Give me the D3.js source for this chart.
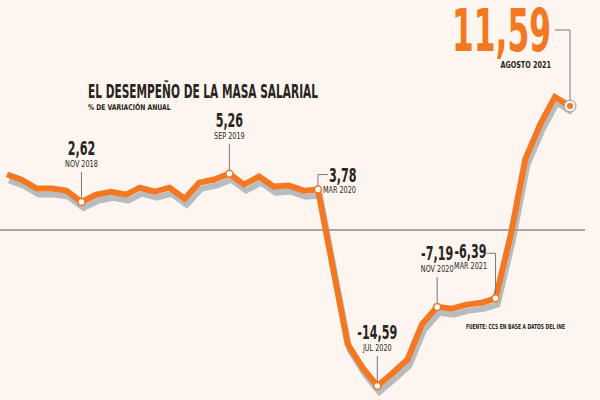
<!DOCTYPE html>
<html><head><meta charset="utf-8">
<script src="https://cdn.jsdelivr.net/npm/d3@7"></script>
<style>body{margin:0;background:#fdf6f0}svg{display:block}</style>
</head><body><svg id="c" width="600" height="400"></svg>
<script>
const months = ["2018-06","2018-07","2018-08","2018-09","2018-10","2018-11","2018-12",
"2019-01","2019-02","2019-03","2019-04","2019-05","2019-06","2019-07","2019-08","2019-09","2019-10","2019-11","2019-12",
"2020-01","2020-02","2020-03","2020-04","2020-05","2020-06","2020-07","2020-08","2020-09","2020-10","2020-11","2020-12",
"2021-01","2021-02","2021-03","2021-04","2021-05","2021-06","2021-07","2021-08"];
const values = [5.19,4.7,3.87,3.87,3.68,2.62,3.3,3.58,3.3,3.96,3.58,3.96,2.92,4.43,4.72,5.26,4.25,5.0,4.06,
4.15,3.68,3.78,-3.6,-10.66,-12.9,-14.59,-13.4,-12.1,-8.8,-7.19,-7.36,-6.98,-6.8,-6.39,-0.5,6.6,9.9,12.45,11.59];
const labeled = [
 {m:"2018-11", v:"2,62", t:"NOV 2018", type:"above"},
 {m:"2019-09", v:"5,26", t:"SEP 2019", type:"above"},
 {m:"2020-03", v:"3,78", t:"MAR 2020", type:"right"},
 {m:"2020-07", v:"-14,59", t:"JUL 2020", type:"above"},
 {m:"2020-11", v:"-7,19", t:"NOV 2020", type:"above"},
 {m:"2021-03", v:"-6,39", t:"MAR 2021", type:"left"}
];
const title = "EL DESEMPEÑO DE LA MASA SALARIAL";
const subtitle = "% DE VARIACIÓN ANUAL";
const source = "FUENTE: CCS EN BASE A DATOS DEL INE";
const bigValue = "11,59", bigLabel = "AGOSTO 2021";

const parse = d3.timeParse("%Y-%m");
const data = months.map((m,i)=>({d:parse(m), v:values[i]}));
const svg = d3.select("#c");
const x = d3.scaleTime().domain(d3.extent(data,d=>d.d)).range([7,570]);
const y = d3.scaleLinear().domain([0,-14.59]).range([230,386]);
const orange="#f47721", dark="#2a2420", cond="'DejaVu Sans Condensed','DejaVu Sans',sans-serif";

// narrow text helper: draws text at (tx,ty) squeezed horizontally
function ntext(tx,ty,str,size,opts){
  opts=opts||{};
  const g=svg.append("g").attr("transform",`translate(${tx},${ty}) scale(${opts.sx||0.62},1)`);
  return g.append("text").attr("x",0).attr("y",0).attr("text-anchor",opts.anchor||"start")
    .attr("font-family",cond).attr("font-weight",opts.weight||"bold").attr("font-size",size)
    .attr("fill",opts.fill||dark).text(str);
}

svg.append("rect").attr("width",600).attr("height",400).attr("fill","#fdf6f0");
svg.append("line").attr("x1",0).attr("x2",585).attr("y1",y(0)).attr("y2",y(0)).attr("stroke","#555").attr("stroke-width",1);

const line = d3.line().x(d=>x(d.d)).y(d=>y(d.v));
svg.append("path").datum(data).attr("d",line).attr("transform","translate(2,6)")
  .attr("fill","none").attr("stroke","#9aa4aa").attr("stroke-width",6).attr("opacity",0.7);
svg.append("path").datum(data).attr("d",line)
  .attr("fill","none").attr("stroke",orange).attr("stroke-width",6);

ntext(88,98,title,19);
ntext(88,110,subtitle,8,{sx:0.85});
ntext(466,329,source,7,{sx:0.7});

labeled.forEach(l=>{
  const dd = data.find(d=>+d.d===+parse(l.m));
  const px=x(dd.d), py=y(dd.v);
  if(l.type==="above"){
    const base = py-47;
    svg.append("line").attr("x1",px).attr("x2",px).attr("y1",base+17).attr("y2",py).attr("stroke","#777").attr("stroke-width",1);
    ntext(px,base,l.v,20,{anchor:"middle"});
    ntext(px,base+12,l.t,9,{anchor:"middle",sx:0.8,weight:"normal"});
  } else if(l.type==="right"){
    svg.append("path").attr("d",`M${px},${py}V${py-15}H${px+10}`).attr("fill","none").attr("stroke","#777");
    ntext(px+11,py-8,l.v,20);
    ntext(px+5,py+3,l.t,9,{sx:0.8,weight:"normal"});
  } else {
    svg.append("path").attr("d",`M${px},${py}V${py-45}H${px-9}`).attr("fill","none").attr("stroke","#777");
    ntext(px-25,py-40,l.v,20,{anchor:"middle"});
    ntext(px-25,py-29,l.t,9,{anchor:"middle",sx:0.8,weight:"normal"});
  }
  svg.append("circle").attr("cx",px).attr("cy",py).attr("r",3.5).attr("fill","#fff").attr("stroke",orange).attr("stroke-width",1.5);
});

const last=data[data.length-1], lx=x(last.d), ly=y(last.v);
svg.append("path").attr("d",`M${lx},${ly}V30H555`).attr("fill","none").attr("stroke","#777");
svg.append("circle").attr("cx",lx).attr("cy",ly).attr("r",6).attr("fill","#eee").attr("stroke","#999").attr("stroke-width",1);
svg.append("circle").attr("cx",lx).attr("cy",ly).attr("r",3).attr("fill",orange);
ntext(551,51,bigValue,58,{anchor:"end",fill:orange,sx:0.6});
ntext(551,68,bigLabel,9,{anchor:"end",sx:0.8});
</script></body></html>
